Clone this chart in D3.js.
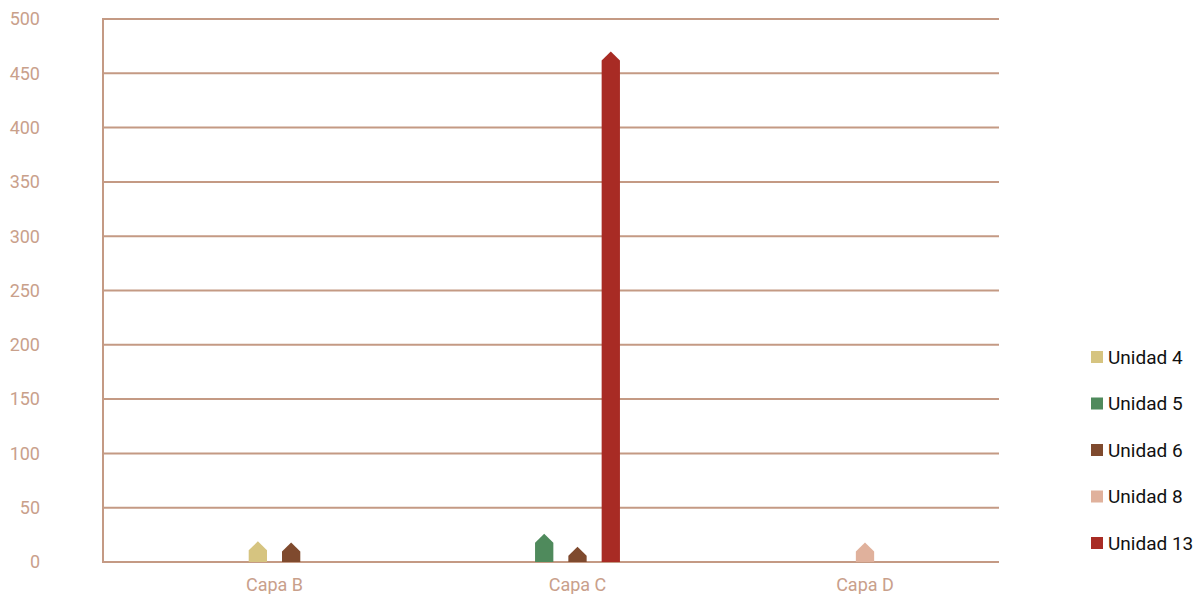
<!DOCTYPE html>
<html><head><meta charset="utf-8">
<script src="https://cdn.jsdelivr.net/npm/d3@7"></script>
<style>body{margin:0;background:#fff;}svg{display:block;font-family:Roboto,sans-serif;}</style>
</head><body><svg id="c" width="1196" height="594"></svg>
<script>
const categories = ["Capa B", "Capa C", "Capa D"];
const seriesNames = ["Unidad 4", "Unidad 5", "Unidad 6", "Unidad 8", "Unidad 13"];
const seriesColors = ["#d6c480", "#4f8a5c", "#7f4a2e", "#e0b19c", "#a82b24"];
const unidad4 = [19, null, null];
const unidad5 = [null, 26, null];
const unidad6 = [18, 14, null];
const unidad8 = [null, null, 18];
const unidad13 = [null, 470, null];
const yTicks = [0, 50, 100, 150, 200, 250, 300, 350, 400, 450, 500];

const seriesValues = [unidad4, unidad5, unidad6, unidad8, unidad13];
const svg = d3.select("#c");
const L = 103, R = 999, T = 19, B = 562;
const gridColor = "#c49a84";
const tickColor = "#c9a08b";

const y = d3.scaleLinear().domain([0, 500]).range([B, T]);
const x = d3.scaleOrdinal().domain(categories).range([274.5, 577.5, 865]);
const step = 33.3, bw = 18.3, tip = 9;

// grid
svg.append("g").selectAll("line").data(yTicks).join("line")
  .attr("x1", L).attr("x2", R).attr("y1", d => y(d)).attr("y2", d => y(d))
  .attr("stroke", gridColor).attr("stroke-width", 2);
svg.append("line").attr("x1", L).attr("x2", L).attr("y1", T - 1).attr("y2", B + 1)
  .attr("stroke", gridColor).attr("stroke-width", 2);

// y ticks
svg.append("g").selectAll("text").data(yTicks).join("text")
  .attr("x", 40).attr("y", d => y(d)).attr("dy", "0.35em")
  .attr("text-anchor", "end").attr("font-size", 18).attr("fill", tickColor)
  .text(d => d);

// x labels
svg.append("g").selectAll("text").data(categories).join("text")
  .attr("x", d => x(d)).attr("y", 585).attr("dy", "0.35em")
  .attr("text-anchor", "middle").attr("font-size", 18).attr("fill", tickColor)
  .text(d => d);

// bars
const bars = [];
categories.forEach((c, ci) => {
  const present = seriesValues.map((s, si) => ({si, v: s[ci]})).filter(d => d.v != null);
  const n = present.length;
  present.forEach((d, k) => {
    const cx = x(c) + (k - (n - 1) / 2) * step;
    bars.push({cx, v: d.v, color: seriesColors[d.si]});
  });
});
svg.append("g").selectAll("path").data(bars).join("path")
  .attr("fill", d => d.color)
  .attr("d", d => {
    const x0 = d.cx - bw / 2, x1 = d.cx + bw / 2, ya = y(d.v), ys = Math.min(B, ya + tip);
    return `M${x0},${B}L${x0},${ys}L${d.cx},${ya}L${x1},${ys}L${x1},${B}Z`;
  });

// legend
const lg = svg.append("g").selectAll("g").data(seriesNames).join("g")
  .attr("transform", (d, i) => `translate(1091,${357 + i * 46.5})`);
lg.append("rect").attr("x", 0).attr("y", -6).attr("width", 12).attr("height", 12)
  .attr("fill", (d, i) => seriesColors[i]);
lg.append("text").attr("x", 17).attr("y", 0).attr("dy", "0.35em")
  .attr("font-size", 19).attr("fill", "#111").text(d => d);
</script></body></html>
